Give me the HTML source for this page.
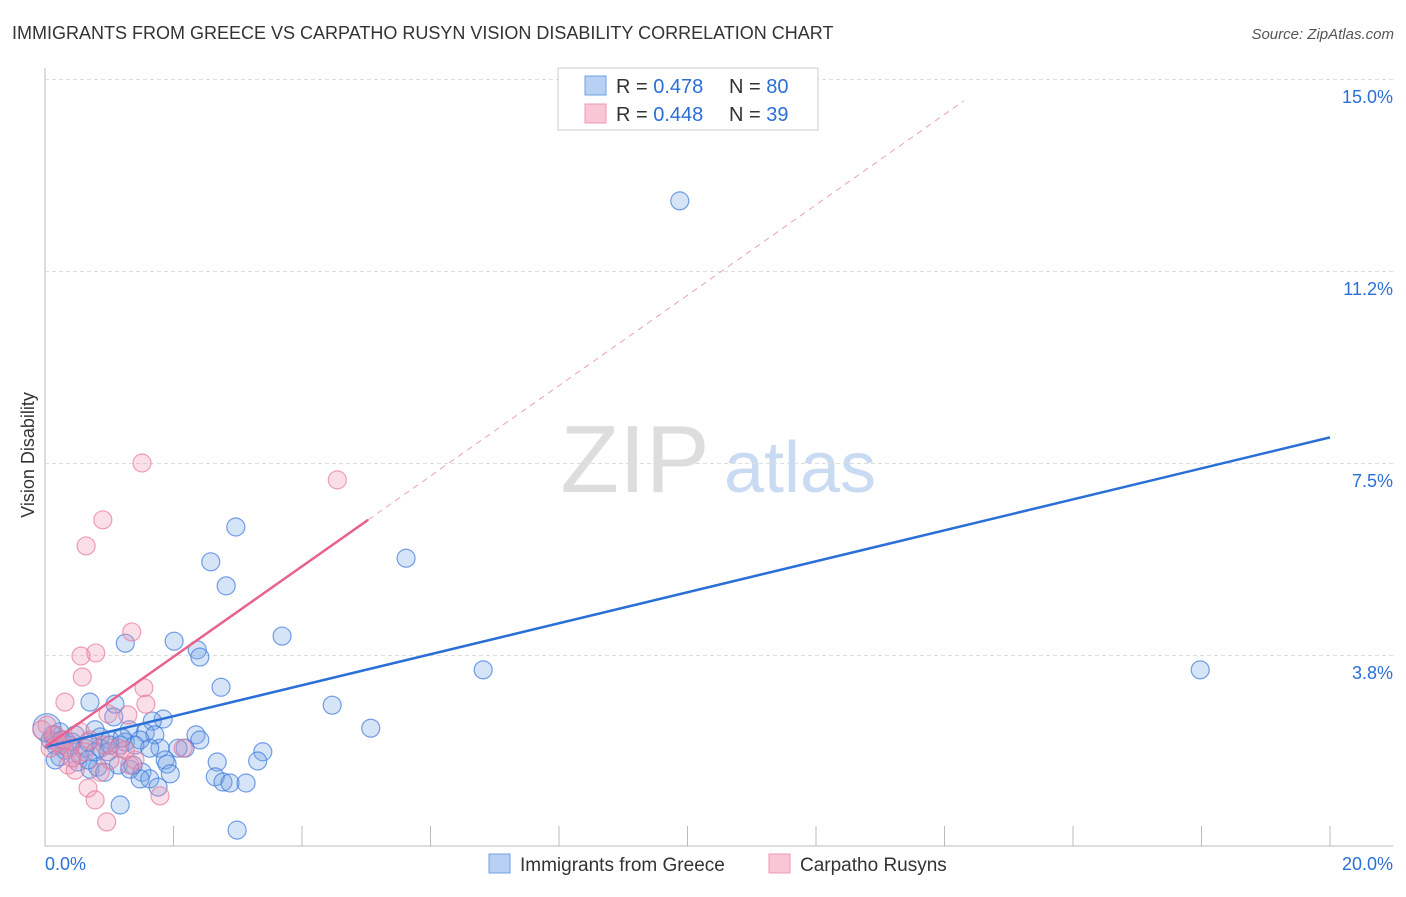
<!DOCTYPE html>
<html><head><meta charset="utf-8"><style>
body{margin:0;background:#fff;font-family:"Liberation Sans",sans-serif}
svg text{font-family:"Liberation Sans",sans-serif}
</style></head><body>
<svg id="c" width="1406" height="892">
<text x="12" y="39" font-size="18" fill="#333">IMMIGRANTS FROM GREECE VS CARPATHO RUSYN VISION DISABILITY CORRELATION CHART</text>
<text x="1394" y="39" font-size="15" fill="#555" font-style="italic" text-anchor="end">Source: ZipAtlas.com</text>
<text x="34" y="455" font-size="18" fill="#333" transform="rotate(-90 34 455)" text-anchor="middle">Vision Disability</text>
<text x="635" y="492" font-size="96" fill="#ddd" font-family="Liberation Serif" text-anchor="middle">ZIP</text>
<text x="800" y="492" font-size="72" fill="#c9dbf3" text-anchor="middle">atlas</text>
<g id="grid"></g><g id="pts"></g><g id="lines"></g>
<g>
<rect x="558" y="68" width="260" height="62" fill="#fff" stroke="#ccc"/>
<rect x="585" y="76" width="21" height="19" fill="#b8d0f3" stroke="#6fa0e6"/>
<rect x="585" y="104" width="21" height="19" fill="#f8c6d4" stroke="#ec9ab2"/>
<text x="616" y="93" font-size="20" fill="#333">R = <tspan fill="#2a6fd6">0.478</tspan></text>
<text x="729" y="93" font-size="20" fill="#333">N = <tspan fill="#2a6fd6">80</tspan></text>
<text x="616" y="121" font-size="20" fill="#333">R = <tspan fill="#2a6fd6">0.448</tspan></text>
<text x="729" y="121" font-size="20" fill="#333">N = <tspan fill="#2a6fd6">39</tspan></text>
</g>
<g>
<rect x="489" y="854" width="21" height="19" fill="#b8d0f3" stroke="#6fa0e6"/>
<text x="520" y="871" font-size="19" fill="#333">Immigrants from Greece</text>
<rect x="769" y="854" width="21" height="19" fill="#f8c6d4" stroke="#ec9ab2"/>
<text x="800" y="871" font-size="19" fill="#333">Carpatho Rusyns</text>
</g>
</svg>
<script>
const yTicks=[3.75,7.5,11.25,15];
const yTickLabels=["3.8%","7.5%","11.2%","15.0%"];
const xTicks=[0,2,4,6,8,10,12,14,16,18,20];
const blueX=[9.88,2.97,5.62,2.58,2.82,3.69,2.01,1.25,2.37,2.41,6.82,17.98,2.74,0.70,4.47,1.09,1.07,1.84,1.67,5.07,2.35,1.31,0.78,1.56,1.71,0.23,0.47,0.86,1.01,1.25,1.48,1.79,2.18,3.39,1.17,1.40,0.86,0.62,0.39,0.16,0.08,2.68,3.31,1.87,1.90,0.23,0.51,0.70,0.82,0.93,1.14,1.32,1.51,1.63,1.95,1.48,2.65,2.77,2.88,3.13,1.76,1.17,2.99,0.03,0.31,0.54,0.78,0.98,1.37,1.01,0.12,0.26,0.42,0.67,1.63,2.07,2.41,0.16,0.67,1.20];
const blueY=[12.62,6.25,5.64,5.57,5.10,4.12,4.02,3.98,3.85,3.71,3.46,3.46,3.12,2.83,2.77,2.79,2.54,2.50,2.46,2.32,2.19,2.29,2.29,2.23,2.19,2.25,2.19,2.15,2.09,2.05,2.09,1.93,1.93,1.86,1.99,1.99,1.93,1.93,1.99,1.99,2.09,1.66,1.68,1.70,1.62,1.76,1.66,1.52,1.56,1.46,1.60,1.52,1.46,1.33,1.43,1.33,1.37,1.27,1.25,1.25,1.17,0.82,0.33,2.33,1.89,1.80,1.86,1.86,1.60,1.99,2.19,2.09,2.05,2.05,1.93,1.93,2.09,1.70,1.70,2.13];
const pinkX=[1.51,4.55,0.90,0.64,1.35,0.79,0.56,0.58,1.54,0.31,1.57,1.29,0.98,0.55,0.03,0.16,0.23,0.39,0.70,0.93,1.14,1.40,2.15,1.32,1.01,0.36,0.47,0.86,1.79,0.67,0.78,0.96,0.19,0.31,0.08,0.62,1.25,-0.05,0.42];
const pinkY=[7.50,7.17,6.39,5.88,4.20,3.79,3.73,3.32,3.11,2.83,2.79,2.58,2.60,2.25,2.38,2.19,1.99,1.93,2.09,1.99,1.93,1.70,1.93,1.60,1.70,1.60,1.50,1.46,1.00,1.15,0.92,0.49,2.05,2.09,1.93,1.86,1.89,2.29,1.74];
const blueFit=[1.95,8.0], pinkFit=[1.95,6.39], pinkEnd=5.03, pinkDashEnd=14.3;
const X=v=>45+v*64.25, Y=v=>847-v*51.2;
const NS="http://www.w3.org/2000/svg";
function mk(p,t,a){const e=document.createElementNS(NS,t);for(const k in a)e.setAttribute(k,a[k]);p.appendChild(e);return e;}
const g=document.getElementById('grid');
let ax=mk(g,'line',{x1:45,y1:68,x2:45,y2:846,stroke:'#bbb'});


let bx=mk(g,'line',{x1:45,y1:846,x2:1393,y2:846,stroke:'#bbb'});


yTicks.forEach((t,i)=>{
 const l=mk(g,'line',{x1:45,x2:1393,y1:Y(t)+0.5,y2:Y(t)+0.5,stroke:'#ddd','stroke-dasharray':'4 3'});
 
 
 const tx=mk(g,'text',{x:1393,y:Y(t)+24,'font-size':18,fill:'#2a6fd6','text-anchor':'end'});
 tx.textContent=yTickLabels[i];
 
 
});
xTicks.forEach(t=>{
 const l=mk(g,'line',{x1:X(t),x2:X(t),y1:826,y2:846,stroke:'#bbb'});
 
 
});
[["0.0%",45,'start'],["20.0%",1393,'end']].forEach(([s,x,a])=>{
 const tx=mk(g,'text',{x:x,y:870,'font-size':18,fill:'#2a6fd6','text-anchor':a});
 tx.textContent=s;
 
 
});
const P=document.getElementById('pts');
blueX.forEach((v,i)=>{
 const c=mk(P,'circle',{cx:X(v),cy:Y(blueY[i]),r:i==63?14:9,fill:'rgba(120,165,230,0.3)',stroke:'rgba(60,120,220,0.7)','stroke-width':1.2});
 
 
});
pinkX.forEach((v,i)=>{
 const c=mk(P,'circle',{cx:X(v),cy:Y(pinkY[i]),r:9,fill:'rgba(240,150,180,0.3)',stroke:'rgba(230,120,155,0.7)','stroke-width':1.2});
 
 
});
const L=document.getElementById('lines');
let b=mk(L,'line',{x1:X(0),y1:Y(blueFit[0]),x2:X(20),y2:Y(blueFit[1]),stroke:'#2a6fd6','stroke-width':2.5});


const ps=(pinkFit[1]-pinkFit[0])/pinkEnd;
let p=mk(L,'line',{x1:X(0),y1:Y(pinkFit[0]),x2:X(pinkEnd),y2:Y(pinkFit[1]),stroke:'#e8628e','stroke-width':2.5});


let pd=mk(L,'line',{x1:X(pinkEnd),y1:Y(pinkFit[1]),x2:X(pinkDashEnd),y2:Y(pinkFit[0]+ps*pinkDashEnd),stroke:'#eba0b8','stroke-width':1,'stroke-dasharray':'6 5'});


</script>
</body></html>
